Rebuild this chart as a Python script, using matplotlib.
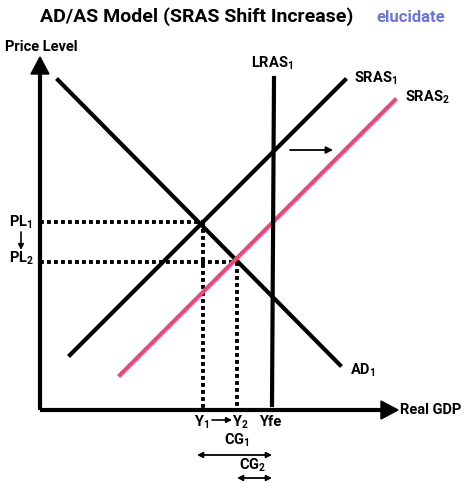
import matplotlib
matplotlib.use("Agg")
import matplotlib.pyplot as plt

plt.rcParams['font.family'] = ['Roboto', 'DejaVu Sans']
plt.rcParams['mathtext.fontset'] = 'custom'
plt.rcParams['mathtext.rm'] = 'Roboto:bold'
plt.rcParams['mathtext.it'] = 'Roboto:bold'
plt.rcParams['mathtext.bf'] = 'Roboto:bold'

W, H = 474, 483
ad_x = [58, 340]; ad_y = [80, 365]
sras1_x = [70, 345]; sras1_y = [355, 80]
sras2_x = [120, 395]; sras2_y = [375, 100]
lras_x = [272, 274]; lras_y = [405, 78]
pl1_y, pl2_y = 222, 262
y1_x, y2_x, yfe_x = 203, 237, 272

fig = plt.figure(figsize=(W/100, H/100), dpi=100)
ax = fig.add_axes([0, 0, 1, 1])
ax.set_xlim(0, W); ax.set_ylim(H, 0); ax.axis('off')

lw = 3.0
def arrow(x0, y0, x1, y1, lw=1.3, style='-|>', ms=10):
    ax.annotate('', xy=(x1, y1), xytext=(x0, y0),
                arrowprops=dict(arrowstyle=style, lw=lw, color='black', mutation_scale=ms, shrinkA=0, shrinkB=0))

ax.plot([40, 40], [410, 72], color='black', lw=lw, solid_capstyle='butt')
ax.plot([40, 383], [410, 410], color='black', lw=lw, solid_capstyle='butt')
ax.fill([31, 49, 40], [74, 74, 57], color='black')
ax.fill([381, 381, 398], [401, 419, 410], color='black')

dot = dict(color='black', lw=2.8, ls=(0, (1, 0.8)))
ax.plot([40, y1_x], [pl1_y, pl1_y], **dot)
ax.plot([y1_x, y1_x], [pl1_y, 410], **dot)
ax.plot([40, y2_x], [pl2_y, pl2_y], **dot)
ax.plot([y2_x, y2_x], [pl2_y, 410], **dot)

ax.plot(ad_x, ad_y, color='black', lw=lw)
ax.plot(sras1_x, sras1_y, color='black', lw=lw)
ax.plot(sras2_x, sras2_y, color='#f0467a', lw=lw)
ax.plot(lras_x, lras_y, color='black', lw=lw)

arrow(290, 150, 333, 150)
arrow(21, 232, 21, 250, lw=1.2, ms=8)
arrow(212, 420, 232, 420, lw=1.2, ms=8)
arrow(197, 455, 272, 455, lw=1.3, style='<|-|>', ms=8)
arrow(237, 478, 272, 478, lw=1.3, style='<|-|>', ms=8)

fs = 10.5
kw = dict(fontsize=fs, fontweight='bold', va='center')
ax.text(197, 17, 'AD/AS Model (SRAS Shift Increase)', ha='center', va='center', fontsize=14, fontweight='bold')
ax.text(411, 17, 'elucidate', ha='center', va='center', fontsize=12, fontweight='bold', color='#6a74d9')
ax.text(5, 47, 'Price Level', ha='left', **kw)
ax.text(400, 410, 'Real GDP', ha='left', **kw)
ax.text(251, 63, r'LRAS$_1$', ha='left', **kw)
ax.text(354, 78, r'SRAS$_1$', ha='left', **kw)
ax.text(405, 97, r'SRAS$_2$', ha='left', **kw)
ax.text(350, 370, r'AD$_1$', ha='left', **kw)
ax.text(9, 222, r'PL$_1$', ha='left', **kw)
ax.text(9, 258, r'PL$_2$', ha='left', **kw)
ax.text(202, 422, r'Y$_1$', ha='center', **kw)
ax.text(240, 422, r'Y$_2$', ha='center', **kw)
ax.text(270, 422, 'Yfe', ha='center', **kw)
ax.text(237, 440, r'CG$_1$', ha='center', **kw)
ax.text(253, 465, r'CG$_2$', ha='center', **kw)

fig.savefig('out.png', dpi=100)
